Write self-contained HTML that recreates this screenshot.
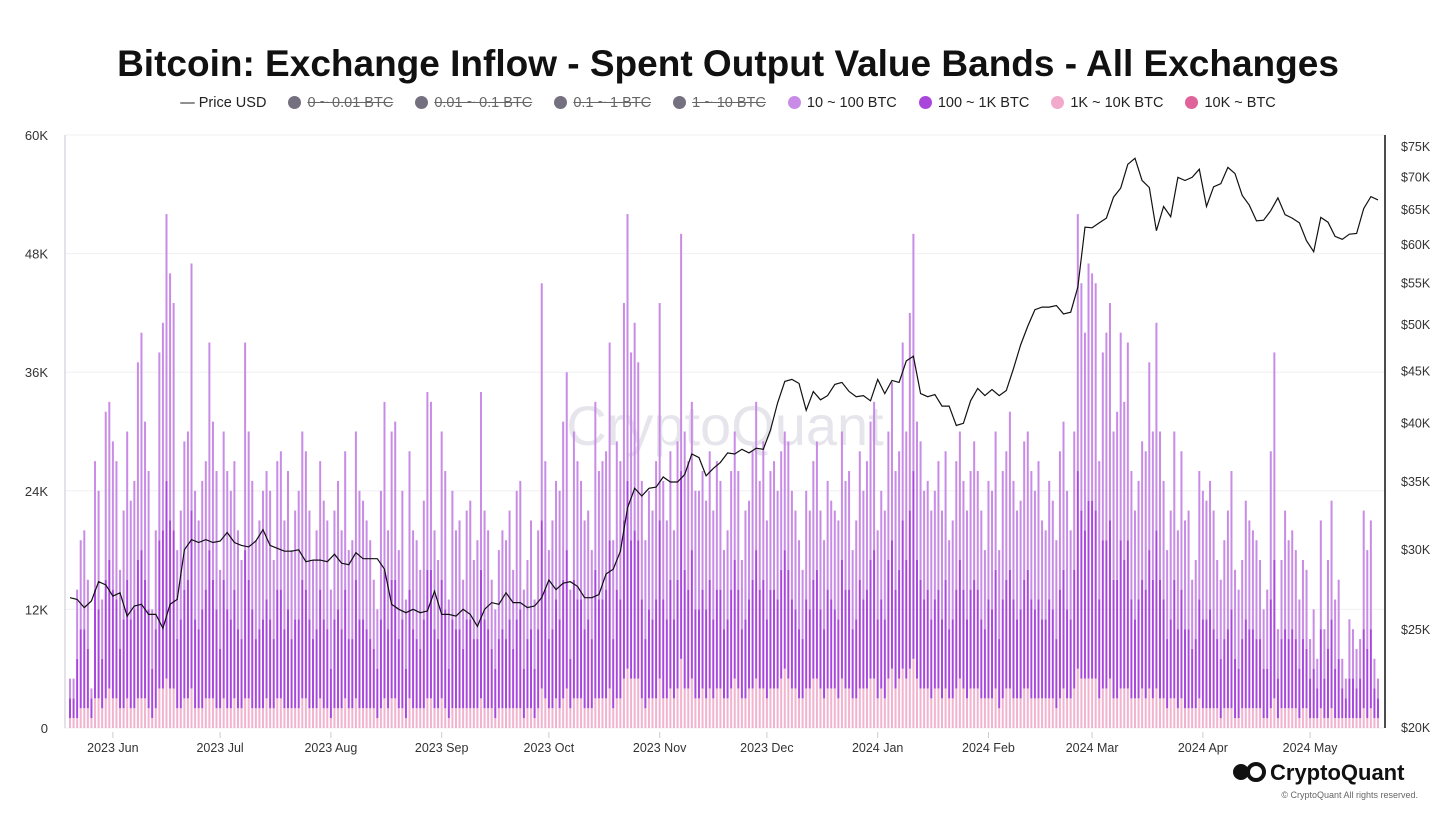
<!DOCTYPE html>
<html><head><meta charset="utf-8">
<style>
body{margin:0;background:#fff;font-family:"Liberation Sans",sans-serif;}
#wrap{position:relative;width:1456px;height:819px;overflow:hidden;background:#fff;}
h1{position:absolute;top:43px;left:0;width:1456px;text-align:center;margin:0;font-size:37px;font-weight:bold;color:#111;}
#legend{position:absolute;top:95px;left:0;width:1456px;text-align:center;font-size:14.5px;color:#222;}
.li{display:inline-block;margin:0 9px;}
.dot{display:inline-block;width:13px;height:13px;border-radius:50%;vertical-align:-2px;margin-right:6px;}
.off{text-decoration:line-through;color:#666;}
</style></head><body>
<div id="wrap">
<h1>Bitcoin: Exchange Inflow - Spent Output Value Bands - All Exchanges</h1>
<div id="legend">
<span class="li">— Price USD</span>
<span class="li off"><span class="dot" style="background:#757080"></span>0 ~ 0.01 BTC</span>
<span class="li off"><span class="dot" style="background:#757080"></span>0.01 ~ 0.1 BTC</span>
<span class="li off"><span class="dot" style="background:#757080"></span>0.1 ~ 1 BTC</span>
<span class="li off"><span class="dot" style="background:#757080"></span>1 ~ 10 BTC</span>
<span class="li"><span class="dot" style="background:#c98ce6"></span>10 ~ 100 BTC</span>
<span class="li"><span class="dot" style="background:#a947dd"></span>100 ~ 1K BTC</span>
<span class="li"><span class="dot" style="background:#f2a9cc"></span>1K ~ 10K BTC</span>
<span class="li"><span class="dot" style="background:#e0629a"></span>10K ~ BTC</span>
</div>
<svg id="chart" width="1456" height="819" style="position:absolute;left:0;top:0"></svg>
</div>
<script>
const totals=[5,5,14,19,20,15,4,27,24,13,32,33,
29,27,16,22,30,23,25,37,40,31,26,12,20,38,41,52,46,43,18,22,29,30,47,24,21,25,27,39,31,26,
16,30,26,24,27,20,17,39,30,25,19,21,24,26,24,17,27,28,21,26,18,22,24,30,28,22,17,20,27,23,21,
14,22,25,20,28,18,19,30,24,23,21,19,15,12,24,33,20,30,31,18,24,13,28,20,19,16,23,34,33,20,17,
30,26,13,24,20,21,15,22,23,17,19,34,22,20,15,12,18,20,19,22,16,24,25,14,17,21,13,20,45,27,
18,21,25,24,31,36,14,30,27,25,21,22,18,33,26,27,28,39,19,29,27,43,52,38,41,37,25,19,24,22,27,
43,25,21,28,20,29,50,30,27,33,24,24,26,23,28,22,27,25,18,20,26,30,26,17,22,23,28,33,25,29,
21,26,27,24,28,30,29,24,22,19,16,24,22,27,29,22,19,25,23,22,21,30,25,26,18,21,28,24,27,31,33,
20,24,22,30,35,26,28,39,30,42,50,31,29,24,25,22,24,27,22,28,19,21,27,30,25,22,26,29,26,22,18,
25,24,30,18,26,28,32,25,22,23,29,30,26,24,27,21,20,25,23,19,28,31,24,20,30,52,45,40,47,
46,45,27,38,40,43,30,32,40,33,39,26,22,25,29,28,37,30,41,30,25,18,22,30,20,28,21,22,15,17,26,
24,23,25,22,17,15,19,22,26,16,14,17,23,21,20,19,17,12,14,28,38,10,17,22,19,20,18,13,17,16,
9,12,7,21,10,17,23,13,15,7,5,11,10,8,9,22,18,21,7,5];
const band100to1k=[2,2,6,8,8,6,2,11,9,5,12,13,
11,10,6,9,12,9,10,14,15,12,10,5,8,15,16,20,17,16,7,9,11,12,18,9,8,10,11,15,12,10,
6,12,10,9,11,8,7,15,12,10,7,8,9,10,9,7,11,11,8,10,7,9,9,12,11,9,7,8,11,9,8,
5,9,10,8,11,7,7,12,9,9,8,7,6,5,9,13,8,12,12,7,9,5,11,8,7,6,9,13,13,8,7,
12,10,5,9,8,8,6,9,9,7,7,13,9,8,6,5,7,8,7,9,6,9,10,5,7,8,5,8,17,11,
7,8,10,9,12,14,5,12,10,10,8,9,7,13,10,10,11,15,7,11,10,16,19,14,15,14,10,7,9,8,10,
16,10,8,11,8,11,19,12,10,13,9,9,10,9,11,8,10,10,7,8,10,12,10,7,8,9,11,13,10,11,
8,10,10,9,11,12,11,9,8,7,6,9,8,10,11,8,7,10,9,8,8,12,10,10,7,8,11,9,10,12,13,
8,9,8,12,13,10,11,15,12,16,19,12,11,9,10,8,9,10,8,11,7,8,10,12,10,8,10,11,10,8,7,
10,9,12,7,10,11,12,10,8,9,11,12,10,9,10,8,8,10,9,7,11,12,9,8,12,20,17,15,18,
18,17,10,15,15,16,12,12,15,13,15,10,8,10,11,11,14,12,16,12,10,7,8,12,8,11,8,8,6,7,10,
9,9,10,8,7,6,7,8,10,6,5,7,9,8,8,7,7,5,5,11,14,4,7,8,7,8,7,5,7,6,
4,5,3,8,4,7,9,5,6,3,2,4,4,3,4,8,7,8,3,2];
const band1kto10k=[1,1,1,2,2,2,1,3,3,2,3,4,
3,3,2,2,3,2,2,3,3,3,2,1,2,4,4,5,4,4,2,2,3,3,4,2,2,2,3,3,3,2,
2,3,2,2,3,2,2,3,3,2,2,2,2,3,2,2,3,3,2,2,2,2,2,3,3,2,2,2,3,2,2,
1,2,2,2,3,2,2,3,2,2,2,2,2,1,2,3,2,3,3,2,2,1,3,2,2,2,2,3,3,2,2,
3,2,1,2,2,2,2,2,2,2,2,3,2,2,2,1,2,2,2,2,2,2,2,1,2,2,1,2,4,3,
2,2,3,2,3,4,2,3,3,3,2,2,2,3,3,3,3,4,2,3,3,5,6,5,5,5,3,2,3,3,3,
5,3,3,4,3,4,7,4,4,5,3,3,4,3,4,3,4,4,3,3,4,5,4,3,3,4,4,5,4,4,
3,4,4,4,5,6,5,4,4,3,3,4,4,5,5,4,3,4,4,4,3,5,4,4,3,3,4,4,4,5,5,
3,4,3,5,6,4,5,6,5,6,7,5,4,4,4,3,4,4,3,4,3,3,4,5,4,3,4,4,4,3,3,
3,3,4,2,3,4,4,3,3,3,4,4,3,3,3,3,3,3,3,2,3,4,3,3,4,6,5,5,5,
5,5,3,4,4,5,3,3,4,4,4,3,3,3,4,3,4,3,4,3,3,2,3,3,2,3,2,2,2,2,3,
2,2,2,2,2,1,2,2,2,1,1,2,2,2,2,2,2,1,1,2,3,1,2,2,2,2,2,1,2,2,
1,1,1,2,1,1,2,1,1,1,1,1,1,1,1,2,1,2,1,1];
const priceK=[26.9,26.8,26.3,26.7,27.9,27.7,27.0,27.2,25.8,26.4,26.5,25.9,25.9,25.1,26.5,26.8,30.0,30.7,30.5,30.7,30.5,30.6,31.2,30.5,30.3,30.2,30.6,31.4,30.3,30.1,29.9,29.9,30.0,29.2,29.3,29.3,29.2,29.7,29.1,29.0,29.8,29.4,29.4,29.4,28.7,26.5,26.2,26.0,26.2,26.0,26.1,27.3,25.9,25.9,25.8,26.2,25.9,25.2,26.2,26.6,26.5,27.2,26.6,26.6,26.3,26.4,26.9,28.0,27.4,27.8,27.9,27.6,26.9,26.9,27.1,28.4,28.7,29.9,33.0,34.5,33.9,34.5,34.6,35.4,35.0,35.0,35.6,37.3,37.0,35.5,36.1,36.6,37.4,37.3,37.7,37.4,37.8,37.7,39.4,41.9,44.0,44.2,43.8,41.2,43.0,42.2,42.6,43.7,43.9,43.0,42.5,42.6,42.1,44.2,42.8,44.1,43.9,46.1,46.6,42.8,42.5,42.7,41.6,41.6,39.8,40.0,42.1,43.3,42.6,43.2,42.6,43.1,45.3,47.8,49.9,51.8,52.1,52.1,52.3,51.3,51.5,54.5,62.5,62.4,63.1,63.8,66.9,68.3,72.1,73.1,69.5,68.4,62.0,65.5,64.0,70.0,69.5,70.0,71.3,65.5,68.5,69.0,71.6,70.6,67.2,65.7,63.4,63.5,64.9,66.8,64.3,63.8,63.1,60.6,59.1,63.9,63.2,61.2,60.8,61.5,61.6,65.2,67.0,66.5];
const leftTicks=["0","12K","24K","36K","48K","60K"];
const leftTickVals=[0,12,24,36,48,60];
const rightTickVals=[20,25,30,35,40,45,50,55,60,65,70,75];
const monthLabels=["2023 Jun","2023 Jul","2023 Aug","2023 Sep","2023 Oct","2023 Nov","2023 Dec","2024 Jan","2024 Feb","2024 Mar","2024 Apr","2024 May"];
const monthStartDay=[12,42,73,104,134,165,195,226,257,286,317,347];

const NS="http://www.w3.org/2000/svg";
const svg=document.getElementById('chart');
const X0=70,X1=1378,Y0=728,YT=135;
const dayW=(X1-X0)/(totals.length-1);
function xDay(d){return X0+d*dayW;}
function yL(v){return Y0-(v/60)*(Y0-YT);}
function yR(p){return Y0-Math.log(p/20)/Math.log(75/20)*(Y0-147);}
function mk(tag,attrs){const e=document.createElementNS(NS,tag);for(const k in attrs)e.setAttribute(k,attrs[k]);svg.appendChild(e);return e;}

leftTickVals.forEach((v,i)=>{
  const g=mk('line',{x1:65,x2:1385,y1:yL(v),y2:yL(v),stroke:'#f0f0f3','stroke-width':1});
  
  
  const t=mk('text',{x:48,y:yL(v)+5,'text-anchor':'end','font-size':13,fill:'#333','font-family':'Liberation Sans, sans-serif'});
  t.textContent=leftTicks[i];
  
  
});
const la=mk('line',{x1:65,x2:65,y1:YT,y2:Y0,stroke:'#d8d8e0','stroke-width':1.5});



const wm=mk('text',{x:725,y:445,'text-anchor':'middle','font-size':56,fill:'#e6e5ec','font-family':'Liberation Sans, sans-serif'});
wm.textContent='CryptoQuant';



for(let i=0;i<totals.length;i++){
  const x=xDay(i)-1;
  const pk=band1kto10k[i], md=band100to1k[i], tot=totals[i];
  const r1=mk('rect',{x:x,y:yL(pk),width:2,height:Y0-yL(pk),fill:'#f2b3cf'});
  
  
  const r2=mk('rect',{x:x,y:yL(pk+md),width:2,height:yL(pk)-yL(pk+md),fill:'#a947dd'});
  
  
  const top=Math.max(tot,pk+md);
  const r3=mk('rect',{x:x,y:yL(top),width:2,height:yL(pk+md)-yL(top),fill:'#c98ce6'});
  
  
}

let d='';
const pStep=(X1-X0)/(priceK.length-1);
priceK.forEach((p,i)=>{d+=(i?'L':'M')+(X0+i*pStep).toFixed(1)+','+yR(p).toFixed(1);});
const pl=mk('path',{d:d,fill:'none',stroke:'#111','stroke-width':1.2});



const ra=mk('line',{x1:1385,x2:1385,y1:135,y2:Y0,stroke:'#111','stroke-width':1.5});


rightTickVals.forEach(v=>{
  const t=mk('text',{x:1401,y:yR(v)+4,'font-size':12.5,fill:'#333','font-family':'Liberation Sans, sans-serif'});
  t.textContent='$'+v+'K';
  
  
});

monthLabels.forEach((m,i)=>{
  const x=xDay(monthStartDay[i]);
  const tk=mk('line',{x1:x,x2:x,y1:Y0+4,y2:Y0+10,stroke:'#ccc','stroke-width':1});
  
  
  const t=mk('text',{x:x,y:752,'text-anchor':'middle','font-size':12.5,fill:'#333','font-family':'Liberation Sans, sans-serif'});
  t.textContent=m;
  
  
});

const lg=mk('g',{});


const c1=document.createElementNS(NS,'circle');c1.setAttribute('cx',1241);c1.setAttribute('cy',772);c1.setAttribute('r',8);c1.setAttribute('fill','#111');lg.appendChild(c1);
const c2=document.createElementNS(NS,'circle');c2.setAttribute('cx',1256);c2.setAttribute('cy',772);c2.setAttribute('r',8);c2.setAttribute('fill','none');c2.setAttribute('stroke','#111');c2.setAttribute('stroke-width',4);lg.appendChild(c2);
const lt=mk('text',{x:1270,y:780,'font-size':22,'font-weight':'bold',fill:'#111','font-family':'Liberation Sans, sans-serif'});
lt.textContent='CryptoQuant';


const cp=mk('text',{x:1418,y:798,'text-anchor':'end','font-size':9,fill:'#666','font-family':'Liberation Sans, sans-serif'});
cp.textContent='© CryptoQuant All rights reserved.';


</script>
</body></html>
